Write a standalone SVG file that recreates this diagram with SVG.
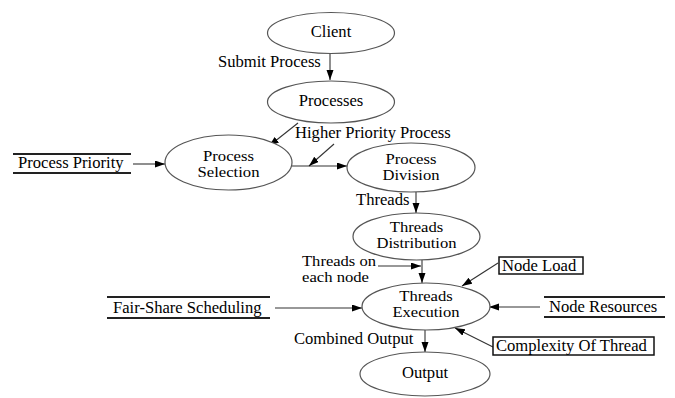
<svg xmlns="http://www.w3.org/2000/svg" width="675" height="398" viewBox="0 0 675 398" font-family="'Liberation Serif','Times New Roman',serif">
<defs>
<style>
text{font-family:"Liberation Serif","Times New Roman",serif;font-size:16.6px;fill:#000}
text.t{font-size:14.2px}
.n{fill:#fff;stroke:#555;stroke-width:1.2}
.c text{text-anchor:middle}
.e{fill:none;stroke:#333;stroke-width:1.1}
.ds{stroke:#222;stroke-width:2}
.bx{fill:#fff;stroke:#111;stroke-width:1.5}
</style>
<marker id="ah" markerUnits="userSpaceOnUse" markerWidth="11" markerHeight="8" refX="10" refY="3.5" orient="auto">
<path d="M0,0 L10,3.5 L0,7 z" fill="#000"/>
</marker>
</defs>
<rect width="675" height="398" fill="#fff"/>
<g id="connectors">
<line class="e" x1="330" y1="53" x2="330" y2="80" marker-end="url(#ah)"/>
<line class="e" x1="298" y1="123" x2="269" y2="146" marker-end="url(#ah)"/>
<line class="e" x1="292" y1="166" x2="347" y2="166" marker-end="url(#ah)"/>
<line class="e" x1="334" y1="144" x2="309" y2="166" marker-end="url(#ah)"/>
<line class="e" x1="133" y1="164" x2="165" y2="164" marker-end="url(#ah)"/>
<line class="e" x1="416" y1="192" x2="416" y2="213" marker-end="url(#ah)"/>
<line class="e" x1="422" y1="260" x2="422" y2="283" marker-end="url(#ah)"/>
<line class="e" x1="378" y1="266" x2="421" y2="266" marker-end="url(#ah)"/>
<line class="e" x1="498" y1="263" x2="462" y2="286" marker-end="url(#ah)"/>
<line class="e" x1="275" y1="308" x2="362" y2="308" marker-end="url(#ah)"/>
<line class="e" x1="540" y1="307" x2="489" y2="307" marker-end="url(#ah)"/>
<line class="e" x1="493" y1="347" x2="455" y2="328" marker-end="url(#ah)"/>
<line class="e" x1="425" y1="330" x2="425" y2="352" marker-end="url(#ah)"/>
<text x="218" y="67">Submit Process</text>
<text x="295" y="138">Higher Priority Process</text>
<text x="356" y="205">Threads</text>
<text class="t" x="302" y="266" textLength="74" lengthAdjust="spacingAndGlyphs">Threads on</text>
<text class="t" x="302" y="282" textLength="67" lengthAdjust="spacingAndGlyphs">each node</text>
<text x="294" y="344">Combined Output</text>
</g>
<g id="client" class="c">
<ellipse class="n" cx="331" cy="33" rx="63.5" ry="20.5"/>
<text x="331" y="37">Client</text>
</g>
<g id="processes" class="c">
<ellipse class="n" cx="331" cy="102" rx="63.5" ry="21"/>
<text x="331" y="106">Processes</text>
</g>
<g id="process-selection" class="c">
<ellipse class="n" cx="228.5" cy="162.5" rx="63.5" ry="27.5"/>
<text class="t" x="228.5" y="161" textLength="51" lengthAdjust="spacingAndGlyphs">Process</text>
<text class="t" x="228.5" y="177" textLength="62" lengthAdjust="spacingAndGlyphs">Selection</text>
</g>
<g id="process-division" class="c">
<ellipse class="n" cx="411" cy="167.5" rx="64" ry="24.5"/>
<text class="t" x="411" y="164" textLength="51" lengthAdjust="spacingAndGlyphs">Process</text>
<text class="t" x="411" y="180" textLength="57" lengthAdjust="spacingAndGlyphs">Division</text>
</g>
<g id="threads-distribution" class="c">
<ellipse class="n" cx="416.5" cy="236.5" rx="63.5" ry="23.5"/>
<text class="t" x="416.5" y="232" textLength="53.5" lengthAdjust="spacingAndGlyphs">Threads</text>
<text class="t" x="416.5" y="248" textLength="80" lengthAdjust="spacingAndGlyphs">Distribution</text>
</g>
<g id="threads-execution" class="c">
<ellipse class="n" cx="426" cy="306.5" rx="64" ry="23.5"/>
<text class="t" x="426" y="301" textLength="53.5" lengthAdjust="spacingAndGlyphs">Threads</text>
<text class="t" x="426" y="317" textLength="67" lengthAdjust="spacingAndGlyphs">Execution</text>
</g>
<g id="output" class="c">
<ellipse class="n" cx="425" cy="374" rx="65" ry="22"/>
<text x="425" y="378">Output</text>
</g>
<g id="process-priority">
<line class="ds" x1="13" y1="154" x2="131" y2="154"/>
<line class="ds" x1="13" y1="173" x2="131" y2="173"/>
<text x="18" y="168">Process Priority</text>
</g>
<g id="fair-share-scheduling">
<line class="ds" x1="107" y1="297" x2="270" y2="297"/>
<line class="ds" x1="107" y1="318" x2="270" y2="318"/>
<text x="113" y="313">Fair-Share Scheduling</text>
</g>
<g id="node-resources">
<line class="ds" x1="544" y1="297" x2="665" y2="297"/>
<line class="ds" x1="544" y1="317" x2="665" y2="317"/>
<text x="549" y="312">Node Resources</text>
</g>
<g id="node-load">
<rect class="bx" x="499" y="257" width="84" height="17"/>
<text x="502" y="271">Node Load</text>
</g>
<g id="complexity-of-thread">
<rect class="bx" x="493" y="337" width="161" height="18"/>
<text x="496" y="351">Complexity Of Thread</text>
</g>
</svg>
